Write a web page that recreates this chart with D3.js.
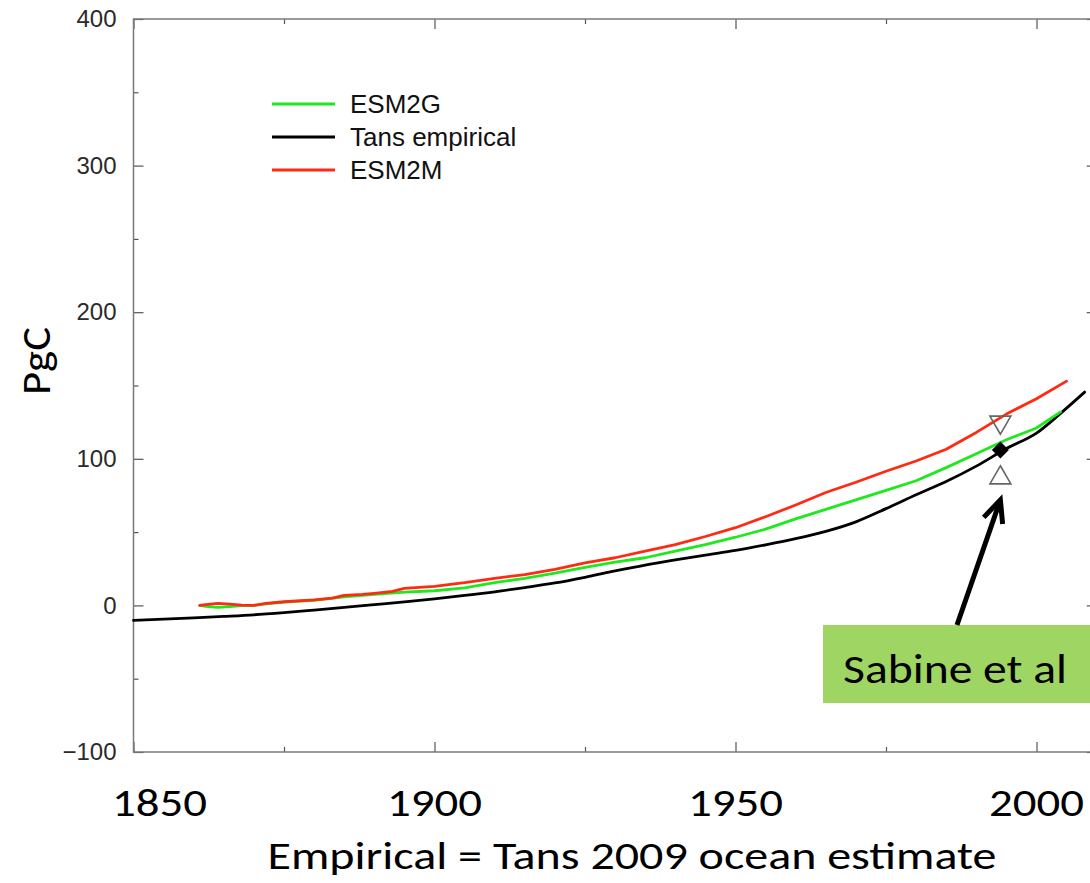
<!DOCTYPE html>
<html>
<head>
<meta charset="utf-8">
<script src="https://cdn.jsdelivr.net/npm/d3@7"></script>
<style>
  html, body { margin: 0; padding: 0; background: #fff; }
  svg { display: block; }
</style>
</head>
<body>
<svg id="chart" width="1090" height="883"></svg>
<script>
// Cumulative anthropogenic ocean carbon uptake (PgC)
const tansYears  = [1850,1855,1860,1865,1870,1875,1880,1885,1890,1895,1900,1905,1910,1915,1920,1925,1930,1935,1940,1945,1950,1955,1960,1965,1970,1975,1980,1985,1990,1995,2000,2004,2008];
const tansValues = [-10.2,-9.4,-8.5,-7.5,-6.4,-4.9,-3.2,-1.4,0.5,2.4,4.5,6.8,9.3,12.2,15.3,19.2,23.5,27.5,31.0,34.3,37.5,41.3,45.5,50.5,57.0,66.0,75.5,84.5,95.0,107.0,117.5,131.0,145.5];

const esm2gYears  = [1861,1862,1864,1866,1868,1870,1872,1875,1880,1885,1890,1895,1900,1905,1910,1915,1920,1925,1930,1935,1940,1945,1950,1955,1960,1965,1970,1975,1980,1985,1990,1995,2000,2004];
const esm2gValues = [0,-0.7,-1.3,-0.8,-0.2,0,1.0,2.2,3.5,5.8,7.5,9.0,10.0,12.0,15.5,18.5,22.0,26.0,29.5,32.5,37.0,41.5,46.5,52.0,59.0,65.5,72.0,78.5,85.0,94.0,103.5,113.0,121.0,132.0];

const esm2mYears  = [1861,1862,1864,1866,1868,1870,1872,1875,1880,1883,1885,1888,1890,1893,1895,1900,1905,1910,1915,1920,1925,1930,1935,1940,1945,1950,1955,1960,1965,1970,1975,1980,1985,1990,1995,2000,2005];
const esm2mValues = [0,0.6,1.4,0.8,0.2,0,1.4,2.5,3.8,5.0,6.8,7.5,8.2,9.5,11.6,13.0,15.5,18.5,21.0,24.5,29.0,32.5,37.0,41.5,47.0,53.0,60.5,68.5,77.0,84.0,91.5,98.5,106.5,118.0,130.5,141.0,153.0];

// Sabine et al. estimate with its range
const sabineYear  = 1994;
const sabineValue = 106;
const sabineUpper = 125;
const sabineLower = 87;

const xMajorTicks = [1850, 1900, 1950, 2000];
const xMinorTicks = [1875, 1925, 1975];
const xTickLabels = ["1850", "1900", "1950", "2000"];
const yMajorTicks = [-100, 0, 100, 200, 300, 400];
const yMinorTicks = [-50, 50, 150, 250, 350];
const yTickLabels = ["\u2212100", "0", "100", "200", "300", "400"];

const seriesNames  = ["ESM2G", "Tans empirical", "ESM2M"];
const seriesColors = ["#1ee81e", "#000000", "#ff2a12"];

const svg = d3.select("#chart");
const slideFont = "Carlito, 'Open Sans', sans-serif";
const plotFont  = "'Liberation Sans', Arial, sans-serif";

const x = d3.scaleLinear().domain([1850, 2010]).range([133.5, 1096.7]);
const y = d3.scaleLinear().domain([-100, 400]).range([752, 19]);

const axisColor = "#7a7a7a";

// ticks pointing into the plot on all four sides
function styleAxis(g) {
  g.select(".domain").remove();
  g.selectAll(".tick line").attr("stroke", "#555").attr("stroke-width", 1.2);
}
svg.append("g").attr("transform", `translate(0,${y(-100)})`)
  .call(d3.axisBottom(x).tickValues(xMajorTicks).tickSizeInner(-10).tickSizeOuter(0).tickFormat(""))
  .call(styleAxis);
svg.append("g").attr("transform", `translate(0,${y(-100)})`)
  .call(d3.axisBottom(x).tickValues(xMinorTicks).tickSizeInner(-5).tickSizeOuter(0).tickFormat(""))
  .call(styleAxis);
svg.append("g").attr("transform", `translate(0,${y(400)})`)
  .call(d3.axisTop(x).tickValues(xMajorTicks).tickSizeInner(-10).tickSizeOuter(0).tickFormat(""))
  .call(styleAxis);
svg.append("g").attr("transform", `translate(0,${y(400)})`)
  .call(d3.axisTop(x).tickValues(xMinorTicks).tickSizeInner(-5).tickSizeOuter(0).tickFormat(""))
  .call(styleAxis);

const leftAxis = svg.append("g").attr("transform", `translate(${x(1850)},0)`)
  .call(d3.axisLeft(y).tickValues(yMajorTicks).tickSizeInner(-10).tickSizeOuter(0).tickPadding(17)
        .tickFormat((d, i) => yTickLabels[i]))
  .call(styleAxis);
leftAxis.selectAll(".tick text")
  .attr("font-family", plotFont).attr("font-size", 24).attr("fill", "#2a2a2a");
svg.append("g").attr("transform", `translate(${x(1850)},0)`)
  .call(d3.axisLeft(y).tickValues(yMinorTicks).tickSizeInner(-5).tickSizeOuter(0).tickFormat(""))
  .call(styleAxis);
svg.append("g").attr("transform", `translate(${x(2010)},0)`)
  .call(d3.axisRight(y).tickValues(yMajorTicks).tickSizeInner(-10).tickSizeOuter(0).tickFormat(""))
  .call(styleAxis);
svg.append("g").attr("transform", `translate(${x(2010)},0)`)
  .call(d3.axisRight(y).tickValues(yMinorTicks).tickSizeInner(-5).tickSizeOuter(0).tickFormat(""))
  .call(styleAxis);

// plot frame
svg.append("rect")
  .attr("x", x(1850)).attr("y", y(400))
  .attr("width", x(2010) - x(1850)).attr("height", y(-100) - y(400))
  .attr("fill", "none").attr("stroke", axisColor).attr("stroke-width", 1.5);

// series lines
const line = d3.line().x(d => x(d[0])).y(d => y(d[1]));
const smoothLine = d3.line().curve(d3.curveMonotoneX).x(d => x(d[0])).y(d => y(d[1]));
const seriesData = [
  d3.zip(esm2gYears, esm2gValues),
  d3.zip(tansYears, tansValues),
  d3.zip(esm2mYears, esm2mValues)
];
// draw black first, then green, then red on top
[1, 0, 2].forEach(i => {
  svg.append("path")
    .datum(seriesData[i])
    .attr("d", i === 1 ? smoothLine : line)
    .attr("fill", "none")
    .attr("stroke", seriesColors[i])
    .attr("stroke-width", 2.8)
    .attr("stroke-linejoin", "round")
    .attr("stroke-linecap", "round");
});

// legend
const legend = svg.append("g").attr("transform", "translate(272,104)");
seriesNames.forEach((name, i) => {
  const row = legend.append("g").attr("transform", `translate(0,${i * 33})`);
  row.append("line").attr("x1", 0).attr("x2", 63).attr("y1", 0).attr("y2", 0)
    .attr("stroke", seriesColors[i]).attr("stroke-width", 2.8);
  row.append("text").attr("x", 78).attr("y", 0).attr("dy", "0.35em")
    .attr("font-family", plotFont).attr("font-size", 26).attr("fill", "#111")
    .text(name);
});

// Sabine et al. point and its bounds
const cx = x(sabineYear);
svg.append("path")
  .attr("transform", `translate(${cx},${y(sabineUpper)}) rotate(180)`)
  .attr("d", d3.symbol(d3.symbolTriangle, 190)())
  .attr("fill", "none").attr("stroke", "#666").attr("stroke-width", 1.6);
svg.append("path")
  .attr("transform", `translate(${cx},${y(sabineLower)})`)
  .attr("d", d3.symbol(d3.symbolTriangle, 190)())
  .attr("fill", "none").attr("stroke", "#666").attr("stroke-width", 1.6);
svg.append("path")
  .attr("transform", `translate(${cx},${y(sabineValue)}) rotate(45)`)
  .attr("d", d3.symbol(d3.symbolSquare, 145)())
  .attr("fill", "#000");

// callout box and arrow
const box = { x: 823, y: 625, w: 290, h: 78 };
svg.append("rect")
  .attr("x", box.x).attr("y", box.y).attr("width", box.w).attr("height", box.h)
  .attr("fill", "#9fd563");
svg.append("text")
  .attr("x", 843).attr("y", 683)
  .attr("font-family", slideFont).attr("font-weight", 300).attr("font-size", 42).attr("fill", "#000")
  .attr("textLength", 224).attr("lengthAdjust", "spacingAndGlyphs")
  .text("Sabine et al");

const tip  = [cx, y(sabineLower) + 22];
const tail = [957, box.y];
const dx = tip[0] - tail[0], dy = tip[1] - tail[1];
const len = Math.hypot(dx, dy);
const ux = dx / len, uy = dy / len, px = -uy, py = ux;
const headBack = 22, headHalf = 10;
svg.append("line")
  .attr("x1", tail[0]).attr("y1", tail[1]).attr("x2", tip[0] - ux * 3).attr("y2", tip[1] - uy * 3)
  .attr("stroke", "#000").attr("stroke-width", 5);
svg.append("path")
  .attr("d", d3.line()([
    [tip[0] - ux * headBack + px * headHalf, tip[1] - uy * headBack + py * headHalf],
    tip,
    [tip[0] - ux * headBack - px * headHalf, tip[1] - uy * headBack - py * headHalf]
  ]))
  .attr("fill", "none").attr("stroke", "#000").attr("stroke-width", 5)
  .attr("stroke-linejoin", "miter");

// slide-style axis labels
svg.append("g").selectAll("text")
  .data(xMajorTicks)
  .join("text")
  .attr("x", (d, i) => x(d) + (i === 0 ? 26 : 0))
  .attr("y", 816)
  .attr("text-anchor", "middle")
  .attr("font-family", slideFont).attr("font-weight", 300).attr("font-size", 39).attr("fill", "#000")
  .attr("textLength", 95).attr("lengthAdjust", "spacingAndGlyphs")
  .text((d, i) => xTickLabels[i]);

svg.append("text")
  .attr("x", 632).attr("y", 869)
  .attr("text-anchor", "middle")
  .attr("font-family", slideFont).attr("font-weight", 300).attr("font-size", 39).attr("fill", "#000")
  .attr("textLength", 729).attr("lengthAdjust", "spacingAndGlyphs")
  .text("Empirical = Tans 2009 ocean estimate");

svg.append("text")
  .attr("transform", "translate(50,361) rotate(-90)")
  .attr("text-anchor", "middle")
  .attr("font-family", slideFont).attr("font-weight", 300).attr("font-size", 42).attr("fill", "#000")
  .attr("textLength", 68).attr("lengthAdjust", "spacingAndGlyphs")
  .text("PgC");
</script>
</body>
</html>
